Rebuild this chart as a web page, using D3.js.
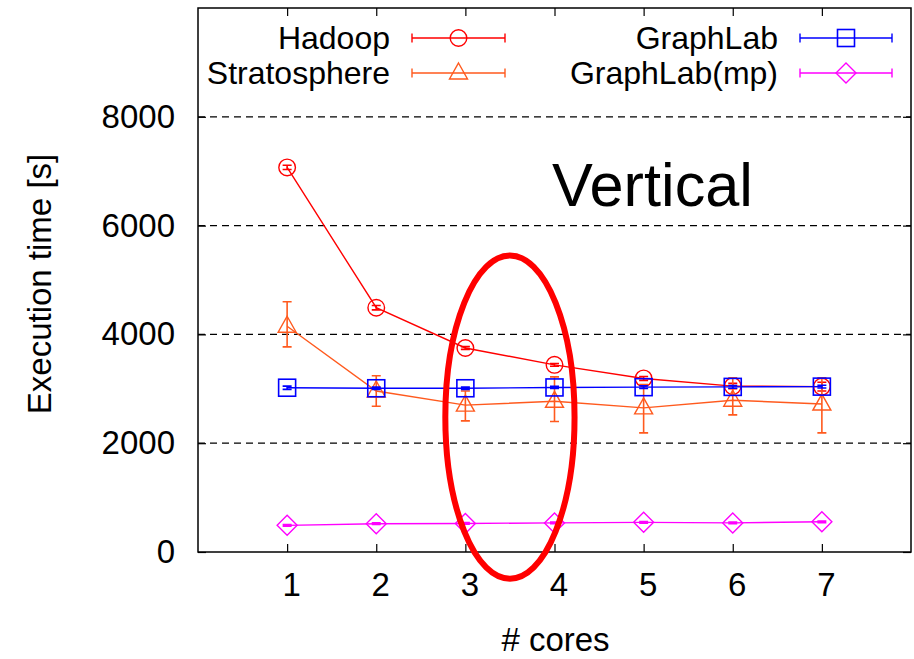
<!DOCTYPE html>
<html>
<head>
<meta charset="utf-8">
<script src="https://cdn.jsdelivr.net/npm/d3@7"></script>
<style>
  body { margin: 0; background: #fff; }
  text { font-family: "Liberation Sans", Arial, sans-serif; fill: #000; }
</style>
</head>
<body>
<div id="chart"></div>
<script>
// data
const cores = [1, 2, 3, 4, 5, 6, 7];
const hadoop = [7070, 4490, 3750, 3440, 3190, 3050, 3040];
const hadoopErr = [40, 40, 25, 25, 35, 50, 80];
const strato = [4150, 2960, 2700, 2770, 2650, 2790, 2720];
const stratoLo = [3770, 2680, 2410, 2400, 2190, 2520, 2190];
const stratoHi = [4600, 3240, 2960, 3220, 3080, 3200, 3200];
const graphlab = [3020, 3010, 3010, 3025, 3030, 3035, 3040];
const graphlabErr = [30, 20, 20, 20, 25, 25, 25];
const graphlabMp = [490, 520, 525, 535, 545, 535, 555];
const graphlabMpErr = [15, 15, 15, 15, 15, 15, 15];
const yTicks = [0, 2000, 4000, 6000, 8000];
const gridTicks = [2000, 4000, 6000, 8000];

const W = 914, H = 659;
const plotL = 198, plotR = 911, plotT = 8, plotB = 552;

const svg = d3.select("#chart").append("svg")
    .attr("width", W).attr("height", H);

const x = d3.scaleLinear().domain([0, 8]).range([plotL, plotR]);
const y = d3.scaleLinear().domain([0, 10000]).range([plotB, plotT]);

// dashed grid
svg.append("g").selectAll("line")
    .data(gridTicks)
    .join("line")
    .attr("x1", plotL).attr("x2", plotR)
    .attr("y1", d => y(d)).attr("y2", d => y(d))
    .attr("stroke", "#000").attr("stroke-width", 1.2)
    .attr("stroke-dasharray", "7,5");

// axes with inward ticks (gnuplot style)
const tickLen = 8;
svg.append("g")
    .attr("transform", `translate(0,${plotB})`)
    .call(d3.axisBottom(x).tickValues(cores).tickSize(-tickLen).tickPadding(21).tickFormat(d3.format("d")))
    .call(g => g.select(".domain").remove())
    .call(g => g.selectAll("text").attr("font-size", 33).attr("dx", 4).attr("dy", "0.71em"));
svg.append("g")
    .attr("transform", `translate(0,${plotT})`)
    .call(d3.axisTop(x).tickValues(cores).tickSize(-tickLen).tickFormat(""))
    .call(g => g.select(".domain").remove());
svg.append("g")
    .attr("transform", `translate(${plotL},0)`)
    .call(d3.axisLeft(y).tickValues(yTicks).tickSize(-tickLen).tickPadding(23).tickFormat(d3.format("d")))
    .call(g => g.select(".domain").remove())
    .call(g => g.selectAll("text").attr("font-size", 33));
svg.append("g")
    .attr("transform", `translate(${plotR},0)`)
    .call(d3.axisRight(y).tickValues(yTicks).tickSize(-tickLen).tickFormat(""))
    .call(g => g.select(".domain").remove());
svg.selectAll(".tick line").attr("stroke", "#000").attr("stroke-width", 1.2);

// border
svg.append("rect")
    .attr("x", plotL).attr("y", plotT)
    .attr("width", plotR - plotL).attr("height", plotB - plotT)
    .attr("fill", "none").attr("stroke", "#000").attr("stroke-width", 1.5);

// axis labels
svg.append("text")
    .attr("transform", `translate(51,${(plotT + plotB) / 2 + 4}) rotate(-90)`)
    .attr("text-anchor", "middle")
    .attr("font-size", 33)
    .text("Execution time [s]");
svg.append("text")
    .attr("x", (plotL + plotR) / 2 + 1).attr("y", 651)
    .attr("text-anchor", "middle")
    .attr("font-size", 33)
    .text("# cores");

// markers
function drawMarker(g, type, cx, cy, color) {
    if (type === "circle") {
        g.append("circle").attr("cx", cx).attr("cy", cy).attr("r", 8.3)
            .attr("fill", "none").attr("stroke", color).attr("stroke-width", 1.4);
    } else if (type === "square") {
        g.append("rect").attr("x", cx - 8.5).attr("y", cy - 8.5).attr("width", 17).attr("height", 17)
            .attr("fill", "none").attr("stroke", color).attr("stroke-width", 1.6);
    } else if (type === "triangle") {
        g.append("path").attr("d", `M${cx},${cy - 10}L${cx + 9},${cy + 6}L${cx - 9},${cy + 6}Z`)
            .attr("fill", "none").attr("stroke", color).attr("stroke-width", 1.4);
    } else if (type === "diamond") {
        g.append("path").attr("d", `M${cx},${cy - 10}L${cx + 10},${cy}L${cx},${cy + 10}L${cx - 10},${cy}Z`)
            .attr("fill", "none").attr("stroke", color).attr("stroke-width", 1.4);
    }
}

const series = [
    { name: "Hadoop", color: "#ff0000", marker: "circle", vals: hadoop,
      lo: hadoop.map((v, i) => v - hadoopErr[i]), hi: hadoop.map((v, i) => v + hadoopErr[i]) },
    { name: "Stratosphere", color: "#ff5a1e", marker: "triangle", vals: strato, lo: stratoLo, hi: stratoHi },
    { name: "GraphLab", color: "#0000ff", marker: "square", vals: graphlab,
      lo: graphlab.map((v, i) => v - graphlabErr[i]), hi: graphlab.map((v, i) => v + graphlabErr[i]) },
    { name: "GraphLab(mp)", color: "#ff00ff", marker: "diamond", vals: graphlabMp,
      lo: graphlabMp.map((v, i) => v - graphlabMpErr[i]), hi: graphlabMp.map((v, i) => v + graphlabMpErr[i]) }
];

const line = d3.line().x(d => x(d[0])).y(d => y(d[1]));
const cap = 4.5;

series.forEach(s => {
    const g = svg.append("g");
    g.append("path")
        .datum(cores.map((c, i) => [c, s.vals[i]]))
        .attr("d", line)
        .attr("fill", "none").attr("stroke", s.color).attr("stroke-width", 1.4);
    cores.forEach((c, i) => {
        const cx = x(c);
        const yl = y(s.lo[i]), yh = y(s.hi[i]);
        g.append("path")
            .attr("d", `M${cx},${yl}V${yh}M${cx - cap},${yl}H${cx + cap}M${cx - cap},${yh}H${cx + cap}`)
            .attr("fill", "none").attr("stroke", s.color).attr("stroke-width", 1.6);
        drawMarker(g, s.marker, cx, y(s.vals[i]), s.color);
    });
});

// legend
const legendPos = [
    { textX: 390, lineX0: 412, lineX1: 505, y: 38 },
    { textX: 390, lineX0: 412, lineX1: 505, y: 73 },
    { textX: 778, lineX0: 800, lineX1: 892, y: 38 },
    { textX: 778, lineX0: 800, lineX1: 892, y: 73 }
];
series.forEach((s, i) => {
    const p = legendPos[i];
    const g = svg.append("g");
    g.append("text")
        .attr("x", p.textX).attr("y", p.y + 11)
        .attr("text-anchor", "end")
        .attr("font-size", 32)
        .text(s.name);
    g.append("path")
        .attr("d", `M${p.lineX0},${p.y}H${p.lineX1}M${p.lineX0},${p.y - 4.5}V${p.y + 4.5}M${p.lineX1},${p.y - 4.5}V${p.y + 4.5}`)
        .attr("fill", "none").attr("stroke", s.color).attr("stroke-width", 1.4);
    drawMarker(g, s.marker, (p.lineX0 + p.lineX1) / 2, p.y, s.color);
});

// annotation
svg.append("text")
    .attr("x", 552).attr("y", 206)
    .attr("font-family", "'DejaVu Sans Condensed', 'DejaVu Sans', sans-serif")
    .attr("font-size", 62)
    .attr("textLength", 201)
    .attr("lengthAdjust", "spacingAndGlyphs")
    .text("Vertical");
svg.append("ellipse")
    .attr("cx", x(3.5)).attr("cy", y(2480))
    .attr("rx", x(3.5) - x(2.775)).attr("ry", y(0) - y(2970))
    .attr("fill", "none").attr("stroke", "#ff0000").attr("stroke-width", 6);
</script>
</body>
</html>
